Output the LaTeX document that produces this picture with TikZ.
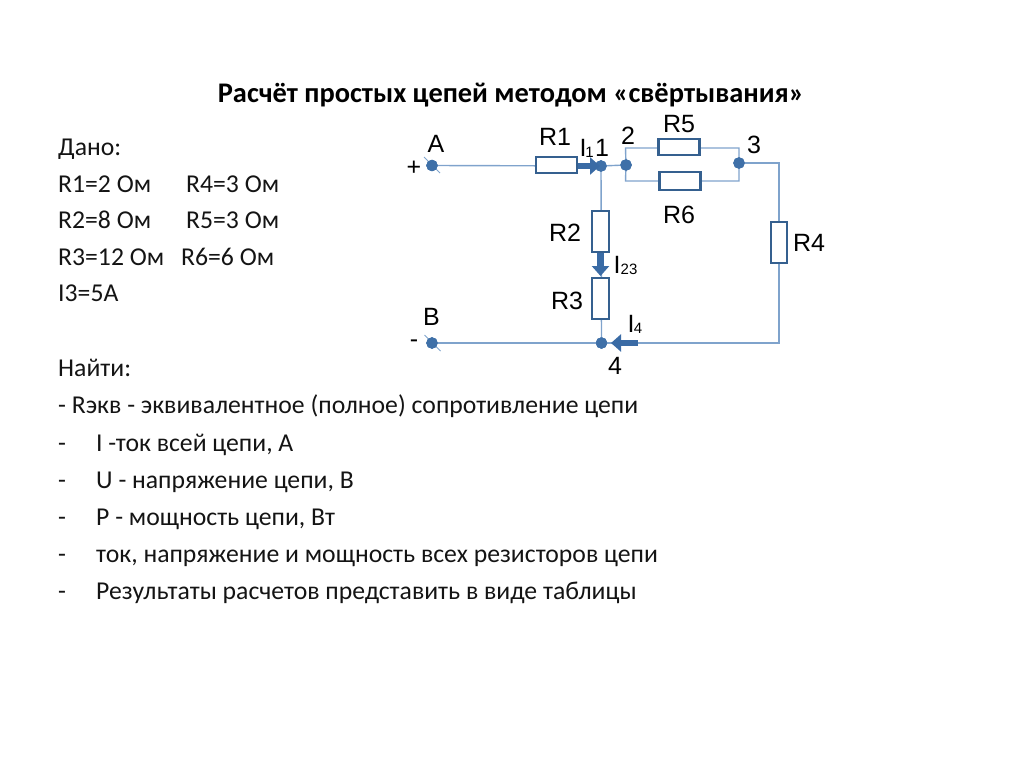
\documentclass[tikz,border=0pt]{standalone}
\usepackage{fontspec}
\setmainfont{Carlito}
\newfontfamily\labelfont{Liberation Sans}
\usetikzlibrary{arrows.meta,calc}
\definecolor{wirec}{HTML}{7FA3CC}
\definecolor{resc}{HTML}{35608F}
\definecolor{dotc}{HTML}{3F70A8}
\definecolor{arrc}{HTML}{3A6BA5}
\tikzset{
  x=1pt,y=-1pt,
  wire/.style={draw=wirec,line width=1.4pt},
  res/.style={draw=resc,line width=2.2pt,fill=white,minimum width=#1,inner sep=0pt,outer sep=0pt},
  reshoriz/.style={res=41pt,minimum height=16.5pt},
  resvert/.style={res=16.5pt,minimum height=41pt},
  dotnode/.style={circle,fill=dotc,draw=dotc,line width=.4pt,minimum size=11pt,inner sep=0pt,outer sep=0pt},
  txt/.style={anchor=base west,inner sep=0pt,font=\fontsize{25.7}{30}\selectfont,text=black!92},
  lab/.style={inner sep=0pt,font=\labelfont\fontsize{25}{28}\selectfont,text=black},
  sublab/.style={inner sep=0pt,font=\labelfont\fontsize{15}{17}\selectfont,text=black},
  curr/.style={draw=arrc,line width=6.5pt,-{Triangle[length=10pt,width=17pt,fill=arrc]}},
  tick/.style={draw=wirec,line width=1pt}
}
\begin{document}
\begin{tikzpicture}
\useasboundingbox (0,0) rectangle (1024,767);
% title
\node[anchor=base,inner sep=0pt,font=\bfseries\fontsize{28.4}{32}\selectfont] (title) at (511,103) {Расчёт простых цепей методом «свёртывания»};
% given
\node[txt] (t1) at (58,156) {Дано:};
\node[txt] (t2) at (58,192.5) {R1=2 Ом};
\node[txt] (t2b) at (186,192.5) {R4=3 Ом};
\node[txt] (t3) at (58,228.5) {R2=8 Ом};
\node[txt] (t3b) at (186,228.5) {R5=3 Ом};
\node[txt] (t4) at (58,265) {R3=12 Ом};
\node[txt] (t4b) at (181,265) {R6=6 Ом};
\node[txt] (t5) at (58,301) {I3=5А};
\node[txt] (t6) at (58,376.5) {Найти:};
\node[txt] (t7) at (58,413.5) {- Rэкв - эквивалентное (полное) сопротивление цепи};
\node[txt] (t8) at (58,451) {-};
\node[txt] (t8b) at (96,451) {I -ток всей цепи, А};
\node[txt] (t9) at (58,488) {-};
\node[txt] (t9b) at (96,488) {U - напряжение цепи, В};
\node[txt] (t10) at (58,525) {-};
\node[txt] (t10b) at (96,525) {P - мощность цепи, Вт};
\node[txt] (t11) at (58,562) {-};
\node[txt] (t11b) at (96,562) {ток, напряжение и мощность всех резисторов цепи};
\node[txt] (t12) at (58,599) {-};
\node[txt] (t12b) at (96,599) {Результаты расчетов представить в виде таблицы};
% circuit nodes
\node[dotnode] (A) at (432,165.5) {};
\node[dotnode] (B) at (432,343) {};
\node[dotnode] (n1) at (601,166) {};
\node[dotnode] (n2) at (626,165) {};
\node[dotnode] (n3) at (739,163) {};
\node[dotnode] (n4) at (601.5,343) {};
\coordinate (c3) at (779,163);
\coordinate (c4) at (779,343);
\coordinate (j2t) at (625.5,148);
\coordinate (j2b) at (625.5,181);
\coordinate (j3t) at (739,148);
\coordinate (j3b) at (739,181);
\draw[wire] (A) -- (n1);
\draw[wire] (n1) -- (n2);
\draw[wire] (n2) -- (j2t) -- (j3t) -- (n3);
\draw[wire] (n2) -- (j2b) -- (j3b) -- (n3);
\draw[wire] (n3) -- (c3) -- (c4) -- (B);
\draw[wire] (n1) -- (n4);
% terminal ticks
\coordinate (a1) at (424,157);
\coordinate (a2) at (440,173);
\coordinate (b1) at (424.5,335);
\coordinate (b2) at (440.5,351);
\draw[tick] (a1) -- (a2);
\draw[tick] (b1) -- (b2);
\node[dotnode] at (A) {};
\node[dotnode] at (B) {};
\node[dotnode] at (n1) {};
\node[dotnode] at (n2) {};
\node[dotnode] at (n3) {};
\node[dotnode] at (n4) {};
% resistors
\node[reshoriz] (R1) at (556.5,165) {};
\node[reshoriz] (R5) at (679,147) {};
\node[reshoriz,minimum height=17.5pt] (R6) at (680,181) {};
\node[resvert] (R2) at (600.5,231.5) {};
\node[resvert] (R3) at (600.5,298.5) {};
\node[resvert] (R4) at (779,242.5) {};
% currents
\coordinate (i1s) at (578,166);
\coordinate (i1e) at (600,166);
\coordinate (i2s) at (600.5,253);
\coordinate (i2e) at (600.5,276);
\coordinate (i4s) at (638,343);
\coordinate (i4e) at (611,343);
\draw[curr,line width=5.5pt] (i1s) -- (i1e);
\draw[curr] (i2s) -- (i2e);
\draw[curr] (i4s) -- (i4e);
% labels
\node[lab] (lA) at (436,143.5) {A};
\node[lab] (lplus) at (414,168.5) {+};
\node[lab] (lB) at (431.5,316.5) {B};
\node[lab] (lminus) at (414,344) {-};
\node[lab] (lR1) at (555,137) {R1};
\node[lab] (lI) at (583,148) {I};
\node[sublab] (lI1) at (589.5,152) {1};
\node[lab] (l1) at (602,148) {1};
\node[lab] (l2) at (628,136) {2};
\node[lab] (lR5) at (679,124) {R5};
\node[lab] (l3) at (754,145) {3};
\node[lab] (lR6) at (679,215) {R6};
\node[lab] (lR2) at (565,233) {R2};
\node[lab] (lR3) at (567,301) {R3};
\node[lab] (lR4) at (809,243) {R4};
\node[lab] (lI2) at (617,265) {I};
\node[sublab] (lI23) at (629,269) {23};
\node[lab] (lI4) at (631,324) {I};
\node[sublab] (lI4s) at (638,328) {4};
\node[lab] (l4) at (615,366) {4};
\end{tikzpicture}
\end{document}
